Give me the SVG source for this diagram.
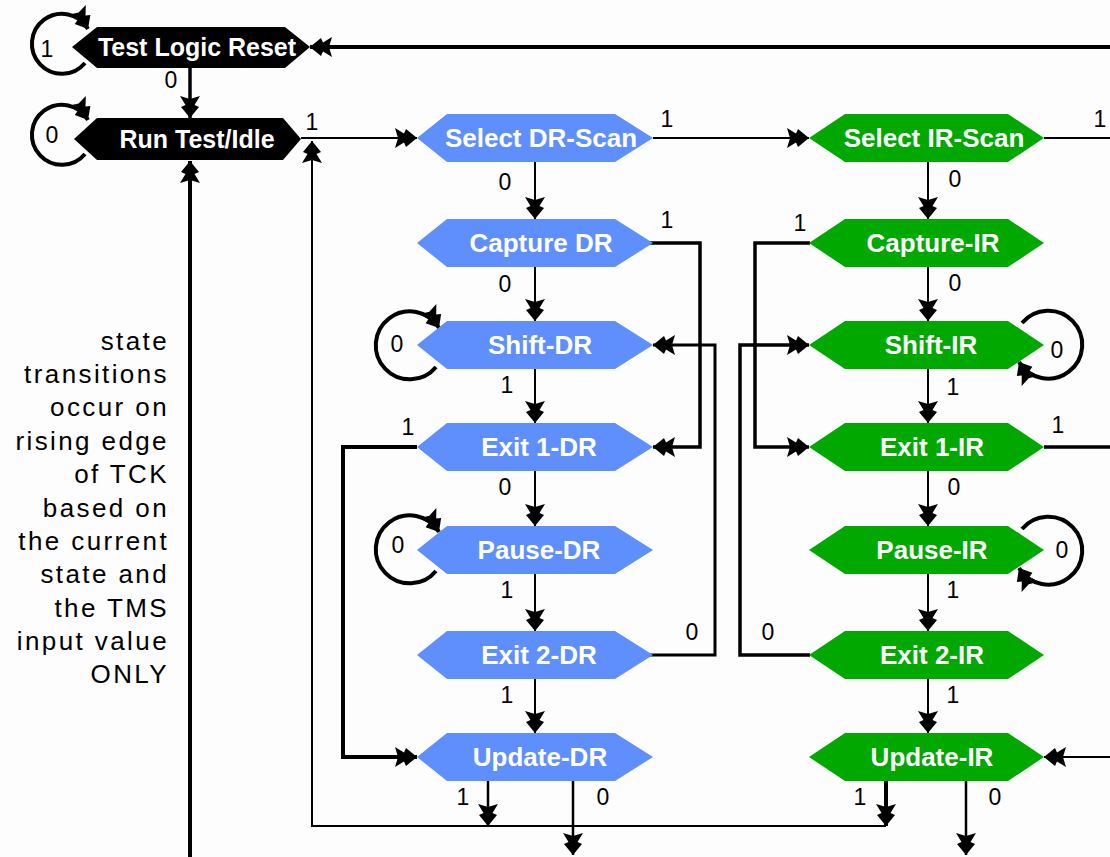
<svg xmlns="http://www.w3.org/2000/svg" width="1110" height="857" viewBox="0 0 1110 857">
<style>
.dr{fill:#5f8ffd}
.ir{fill:#00a800}
.bk{fill:#000}
.nt{font-family:"Liberation Sans",Arial,sans-serif;font-weight:bold;font-size:26px;fill:#fff;text-anchor:middle}
.lb{font-family:"Liberation Sans",Arial,sans-serif;font-size:23px;fill:#000;text-anchor:middle}
.side{font-family:"Liberation Sans",Arial,sans-serif;font-size:26px;fill:#000;text-anchor:end;letter-spacing:2.4px}
.c{fill:none;stroke:#000;marker-end:url(#ah)}
.cn{fill:none;stroke:#000}
</style>
<defs>
<marker id="ah" markerUnits="userSpaceOnUse" orient="auto" markerWidth="26" markerHeight="26" viewBox="-24 -13 26 26" refX="0" refY="0" overflow="visible">
<path d="M0,0 L-11,-9 L-13,-4.5 L-22,-10 L-19,0 L-22,10 L-13,4.5 L-11,9 Z" fill="#000"/>
</marker>
</defs>
<rect width="1110" height="857" fill="#fdfdfd"/>

<g id="connectors">
<path class="c" stroke-width="3.5" d="M190,68 V118"/>
<path class="c" stroke-width="4" d="M190,857 V161"/>
<path class="c" stroke-width="4" d="M1110,47 H310"/>
<path class="c" stroke-width="2" d="M301,138 H417"/>
<path class="c" stroke-width="2" d="M886,826 H312 V141"/>
<path class="c" stroke-width="2" d="M653,138 H809"/>
<path class="cn" stroke-width="2" d="M1044,138 H1110"/>
<path class="c" stroke-width="2" d="M535,162 V219"/>
<path class="c" stroke-width="2" d="M535,267 V321"/>
<path class="c" stroke-width="2" d="M535,369 V423"/>
<path class="c" stroke-width="2" d="M535,471 V526"/>
<path class="c" stroke-width="2" d="M535,574 V631"/>
<path class="c" stroke-width="2" d="M535,679 V733"/>
<path class="c" stroke-width="2" d="M928,162 V219"/>
<path class="c" stroke-width="2" d="M928,267 V321"/>
<path class="c" stroke-width="2" d="M928,369 V423"/>
<path class="c" stroke-width="2" d="M928,471 V526"/>
<path class="c" stroke-width="2" d="M928,574 V631"/>
<path class="c" stroke-width="2" d="M928,679 V733"/>
<path class="c" stroke-width="3.5" d="M648,243 H700 V447 H653"/>
<path class="c" stroke-width="3" d="M650,655 H715 V345 H653"/>
<path class="c" stroke-width="4" d="M417,447 H343 V757 H417"/>
<path class="c" stroke-width="2.5" d="M488,781 V826"/>
<path class="c" stroke-width="2.5" d="M573,781 V855"/>
<path class="c" stroke-width="3.5" d="M810,243 H755 V447 H809"/>
<path class="c" stroke-width="3.5" d="M810,655 H740 V345 H809"/>
<path class="cn" stroke-width="3.5" d="M1044,447 H1110"/>
<path class="c" stroke-width="2" d="M1110,757 H1044"/>
<path class="c" stroke-width="4" d="M886,781 V826"/>
<path class="c" stroke-width="2.5" d="M966,781 V855"/>
<path class="c" stroke-width="4" d="M85,63 A30,30 0 1 1 88,29"/>
<path class="c" stroke-width="4" d="M85,154 A30,30 0 1 1 88,120"/>
<path class="c" stroke-width="4" d="M436,367 A34,34 0 1 1 439,328"/>
<path class="c" stroke-width="4" d="M436,571 A34,34 0 1 1 439,532"/>
<path class="c" stroke-width="4" d="M1022,323 A34,34 0 1 1 1019,362"/>
<path class="c" stroke-width="4" d="M1022,529 A34,34 0 1 1 1019,568"/>
</g>

<g id="tlr"><polygon class="bk" points="72,47 97,27 285,27 310,47 285,68 97,68"/><text class="nt" x="197" y="56" style="font-size:25px">Test Logic Reset</text></g>
<g id="rti"><polygon class="bk" points="74,139 97,118 283,118 301,139 283,160 97,160"/><text class="nt" x="197" y="148" style="font-size:25px">Run Test/Idle</text></g>

<g id="sel-dr"><polygon class="dr" points="417,138 447,114 615,114 653,138 615,162 447,162"/><text class="nt" x="541" y="147">Select DR-Scan</text></g>
<g id="cap-dr"><polygon class="dr" points="417,243 447,219 615,219 653,243 615,267 447,267"/><text class="nt" x="541" y="252">Capture DR</text></g>
<g id="shift-dr"><polygon class="dr" points="417,345 447,321 615,321 653,345 615,369 447,369"/><text class="nt" x="540" y="354">Shift-DR</text></g>
<g id="exit1-dr"><polygon class="dr" points="417,447 447,423 615,423 653,447 615,471 447,471"/><text class="nt" x="539" y="456">Exit 1-DR</text></g>
<g id="pause-dr"><polygon class="dr" points="417,550 447,526 615,526 653,550 615,574 447,574"/><text class="nt" x="539" y="559">Pause-DR</text></g>
<g id="exit2-dr"><polygon class="dr" points="417,655 447,631 615,631 653,655 615,679 447,679"/><text class="nt" x="539" y="664">Exit 2-DR</text></g>
<g id="update-dr"><polygon class="dr" points="417,757 447,733 615,733 653,757 615,781 447,781"/><text class="nt" x="540" y="766">Update-DR</text></g>

<g id="sel-ir"><polygon class="ir" points="809,138 845,114 1008,114 1044,138 1008,162 845,162"/><text class="nt" x="934" y="147">Select IR-Scan</text></g>
<g id="cap-ir"><polygon class="ir" points="809,243 845,219 1008,219 1044,243 1008,267 845,267"/><text class="nt" x="933" y="252">Capture-IR</text></g>
<g id="shift-ir"><polygon class="ir" points="809,345 845,321 1008,321 1044,345 1008,369 845,369"/><text class="nt" x="931" y="354">Shift-IR</text></g>
<g id="exit1-ir"><polygon class="ir" points="809,447 845,423 1008,423 1044,447 1008,471 845,471"/><text class="nt" x="932" y="456">Exit 1-IR</text></g>
<g id="pause-ir"><polygon class="ir" points="809,550 845,526 1008,526 1044,550 1008,574 845,574"/><text class="nt" x="932" y="559">Pause-IR</text></g>
<g id="exit2-ir"><polygon class="ir" points="809,655 845,631 1008,631 1044,655 1008,679 845,679"/><text class="nt" x="932" y="664">Exit 2-IR</text></g>
<g id="update-ir"><polygon class="ir" points="809,757 845,733 1008,733 1044,757 1008,781 845,781"/><text class="nt" x="932" y="766">Update-IR</text></g>

<g id="labels">
<text class="lb" x="47" y="57">1</text>
<text class="lb" x="171" y="88">0</text>
<text class="lb" x="52" y="143">0</text>
<text class="lb" x="312" y="130">1</text>
<text class="lb" x="667" y="127">1</text>
<text class="lb" x="505" y="190">0</text>
<text class="lb" x="667" y="228">1</text>
<text class="lb" x="505" y="292">0</text>
<text class="lb" x="397" y="352">0</text>
<text class="lb" x="507" y="393">1</text>
<text class="lb" x="408" y="435">1</text>
<text class="lb" x="505" y="495">0</text>
<text class="lb" x="398" y="553">0</text>
<text class="lb" x="507" y="598">1</text>
<text class="lb" x="692" y="640">0</text>
<text class="lb" x="507" y="703">1</text>
<text class="lb" x="463" y="805">1</text>
<text class="lb" x="603" y="805">0</text>
<text class="lb" x="955" y="187">0</text>
<text class="lb" x="1100" y="127">1</text>
<text class="lb" x="800" y="231">1</text>
<text class="lb" x="955" y="291">0</text>
<text class="lb" x="1057" y="358">0</text>
<text class="lb" x="953" y="395">1</text>
<text class="lb" x="1058" y="433">1</text>
<text class="lb" x="954" y="495">0</text>
<text class="lb" x="1062" y="558">0</text>
<text class="lb" x="953" y="598">1</text>
<text class="lb" x="768" y="640">0</text>
<text class="lb" x="953" y="703">1</text>
<text class="lb" x="860" y="805">1</text>
<text class="lb" x="995" y="805">0</text>
</g>

<g id="note">
<text class="side" x="169" y="350">state</text>
<text class="side" x="169" y="383">transitions</text>
<text class="side" x="169" y="416">occur on</text>
<text class="side" x="169" y="450">rising edge</text>
<text class="side" x="169" y="483">of TCK</text>
<text class="side" x="169" y="517">based on</text>
<text class="side" x="169" y="550">the current</text>
<text class="side" x="169" y="583">state and</text>
<text class="side" x="169" y="617">the TMS</text>
<text class="side" x="169" y="650">input value</text>
<text class="side" x="169" y="683">ONLY</text>
</g>
</svg>
